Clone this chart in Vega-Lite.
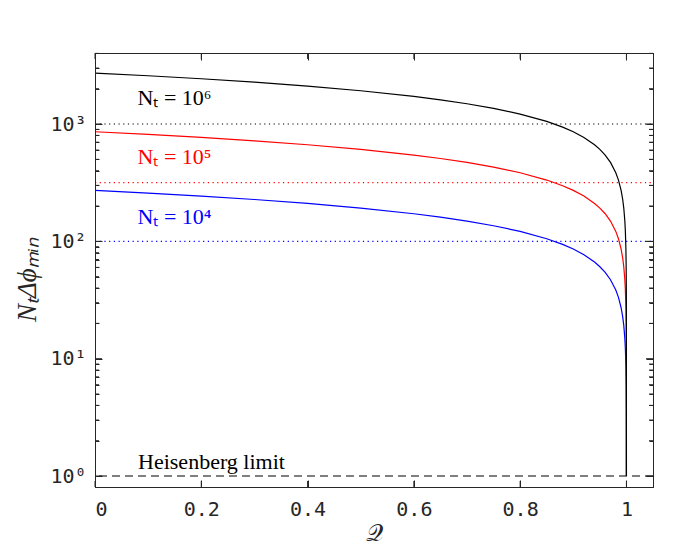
{
  "$schema": "https://vega.github.io/schema/vega-lite/v6.json",
  "width": 558,
  "height": 434,
  "autosize": "none",
  "padding": {"left": 95, "top": 53, "right": 35, "bottom": 63},
  "background": "white",
  "config": {"view": {"stroke": "#262626", "strokeWidth": 1}, "axis": {"zindex": 2, "tickColor": "#262626", "tickWidth": 1, "tickOpacity": 1, "domainColor": "#262626", "domainWidth": 1, "grid": false}},
  "datasets": {
    "curves": [
      {"Q": 0, "v": 271.8, "Nt": "4"}, {"Q": 0.1, "v": 257.9, "Nt": "4"}, {"Q": 0.2, "v": 243.1, "Nt": "4"}, {"Q": 0.3, "v": 227.4, "Nt": "4"}, {"Q": 0.4, "v": 210.6, "Nt": "4"}, {"Q": 0.5, "v": 192.2, "Nt": "4"}, {"Q": 0.6, "v": 171.9, "Nt": "4"}, {"Q": 0.65, "v": 160.8, "Nt": "4"}, {"Q": 0.7, "v": 148.9, "Nt": "4"}, {"Q": 0.75, "v": 135.9, "Nt": "4"}, {"Q": 0.8, "v": 121.6, "Nt": "4"}, {"Q": 0.85, "v": 105.3, "Nt": "4"}, {"Q": 0.88, "v": 94.17, "Nt": "4"}, {"Q": 0.9, "v": 85.96, "Nt": "4"}, {"Q": 0.92, "v": 76.89, "Nt": "4"}, {"Q": 0.94, "v": 66.58, "Nt": "4"}, {"Q": 0.95, "v": 60.78, "Nt": "4"}, {"Q": 0.96, "v": 54.37, "Nt": "4"}, {"Q": 0.97, "v": 47.08, "Nt": "4"}, {"Q": 0.98, "v": 38.44, "Nt": "4"}, {"Q": 0.985, "v": 33.29, "Nt": "4"}, {"Q": 0.99, "v": 27.18, "Nt": "4"}, {"Q": 0.993, "v": 22.74, "Nt": "4"}, {"Q": 0.995, "v": 19.22, "Nt": "4"}, {"Q": 0.997, "v": 14.89, "Nt": "4"}, {"Q": 0.998, "v": 12.16, "Nt": "4"}, {"Q": 0.999, "v": 8.596, "Nt": "4"}, {"Q": 0.9995, "v": 6.078, "Nt": "4"}, {"Q": 0.9998, "v": 3.844, "Nt": "4"}, {"Q": 0.9999, "v": 2.718, "Nt": "4"}, {"Q": 1, "v": 1, "Nt": "4"},
      {"Q": 0, "v": 859.6, "Nt": "5"}, {"Q": 0.1, "v": 815.5, "Nt": "5"}, {"Q": 0.2, "v": 768.8, "Nt": "5"}, {"Q": 0.3, "v": 719.1, "Nt": "5"}, {"Q": 0.4, "v": 666.0, "Nt": "5"}, {"Q": 0.5, "v": 607.8, "Nt": "5"}, {"Q": 0.6, "v": 543.6, "Nt": "5"}, {"Q": 0.65, "v": 508.5, "Nt": "5"}, {"Q": 0.7, "v": 470.9, "Nt": "5"}, {"Q": 0.75, "v": 429.8, "Nt": "5"}, {"Q": 0.8, "v": 384.5, "Nt": "5"}, {"Q": 0.85, "v": 333.0, "Nt": "5"}, {"Q": 0.88, "v": 297.8, "Nt": "5"}, {"Q": 0.9, "v": 271.8, "Nt": "5"}, {"Q": 0.92, "v": 243.2, "Nt": "5"}, {"Q": 0.94, "v": 210.5, "Nt": "5"}, {"Q": 0.95, "v": 192.2, "Nt": "5"}, {"Q": 0.96, "v": 171.9, "Nt": "5"}, {"Q": 0.97, "v": 148.9, "Nt": "5"}, {"Q": 0.98, "v": 121.6, "Nt": "5"}, {"Q": 0.985, "v": 105.3, "Nt": "5"}, {"Q": 0.99, "v": 85.96, "Nt": "5"}, {"Q": 0.993, "v": 71.91, "Nt": "5"}, {"Q": 0.995, "v": 60.78, "Nt": "5"}, {"Q": 0.997, "v": 47.09, "Nt": "5"}, {"Q": 0.998, "v": 38.45, "Nt": "5"}, {"Q": 0.999, "v": 27.18, "Nt": "5"}, {"Q": 0.9995, "v": 19.22, "Nt": "5"}, {"Q": 0.9998, "v": 12.16, "Nt": "5"}, {"Q": 0.9999, "v": 8.596, "Nt": "5"}, {"Q": 1, "v": 1, "Nt": "5"},
      {"Q": 0, "v": 2718, "Nt": "6"}, {"Q": 0.1, "v": 2579, "Nt": "6"}, {"Q": 0.2, "v": 2431, "Nt": "6"}, {"Q": 0.3, "v": 2274, "Nt": "6"}, {"Q": 0.4, "v": 2106, "Nt": "6"}, {"Q": 0.5, "v": 1922, "Nt": "6"}, {"Q": 0.6, "v": 1719, "Nt": "6"}, {"Q": 0.65, "v": 1608, "Nt": "6"}, {"Q": 0.7, "v": 1489, "Nt": "6"}, {"Q": 0.75, "v": 1359, "Nt": "6"}, {"Q": 0.8, "v": 1216, "Nt": "6"}, {"Q": 0.85, "v": 1053, "Nt": "6"}, {"Q": 0.88, "v": 941.7, "Nt": "6"}, {"Q": 0.9, "v": 859.6, "Nt": "6"}, {"Q": 0.92, "v": 768.9, "Nt": "6"}, {"Q": 0.94, "v": 665.8, "Nt": "6"}, {"Q": 0.95, "v": 607.8, "Nt": "6"}, {"Q": 0.96, "v": 543.7, "Nt": "6"}, {"Q": 0.97, "v": 470.8, "Nt": "6"}, {"Q": 0.98, "v": 384.4, "Nt": "6"}, {"Q": 0.985, "v": 332.9, "Nt": "6"}, {"Q": 0.99, "v": 271.8, "Nt": "6"}, {"Q": 0.993, "v": 227.4, "Nt": "6"}, {"Q": 0.995, "v": 192.2, "Nt": "6"}, {"Q": 0.997, "v": 148.9, "Nt": "6"}, {"Q": 0.998, "v": 121.6, "Nt": "6"}, {"Q": 0.999, "v": 85.96, "Nt": "6"}, {"Q": 0.9995, "v": 60.78, "Nt": "6"}, {"Q": 0.9998, "v": 38.44, "Nt": "6"}, {"Q": 0.9999, "v": 27.18, "Nt": "6"}, {"Q": 1, "v": 1, "Nt": "6"}
    ],
    "hlines": [
      {"v": 100, "Nt": "4"}, {"v": 316.23, "Nt": "5"}, {"v": 1000, "Nt": "6"}
    ],
    "heis": [{"v": 1}],
    "yMajor": [{"v": 1}, {"v": 10}, {"v": 100}, {"v": 1000}],
    "yMinor": [{"v": 2}, {"v": 3}, {"v": 4}, {"v": 5}, {"v": 6}, {"v": 7}, {"v": 8}, {"v": 9}, {"v": 20}, {"v": 30}, {"v": 40}, {"v": 50}, {"v": 60}, {"v": 70}, {"v": 80}, {"v": 90}, {"v": 200}, {"v": 300}, {"v": 400}, {"v": 500}, {"v": 600}, {"v": 700}, {"v": 800}, {"v": 900}, {"v": 2000}, {"v": 3000}, {"v": 4000}],
    "xMajor": [{"Q": 0}, {"Q": 0.2}, {"Q": 0.4}, {"Q": 0.6}, {"Q": 0.8}, {"Q": 1}],
    "labels": [
      {"Q": 0.08, "v": 1656, "label": "Nₜ = 10⁶", "Nt": "6"},
      {"Q": 0.08, "v": 524, "label": "Nₜ = 10⁵", "Nt": "5"},
      {"Q": 0.08, "v": 161, "label": "Nₜ = 10⁴", "Nt": "4"},
      {"Q": 0.081, "v": 1.32, "label": "Heisenberg limit", "Nt": "H"}
    ]
  },
  "layer": [
    {
      "data": {"name": "curves"},
      "mark": {"type": "line", "strokeWidth": 1.2},
      "encoding": {
        "x": {"field": "Q", "type": "quantitative",
          "scale": {"domain": [0, 1.05], "nice": false, "zero": false},
          "axis": {"orient": "bottom", "values": [0, 0.2, 0.4, 0.6, 0.8, 1], "zindex": 2,
            "labelExpr": "datum.value == 0 ? '0' : datum.value == 1 ? '1' : format(datum.value, '.1f')",
            "labelFont": "DejaVu Sans Mono", "labelFontSize": 20, "labelColor": "#262626",
            "tickSize": -7, "labelPadding": 19,
            "title": "𝒬", "titleFont": "DejaVu Serif", "titleFontSize": 24, "titleFontWeight": "normal", "titleColor": "#262626", "titlePadding": 2}},
        "y": {"field": "v", "type": "quantitative",
          "scale": {"type": "log", "domain": [0.806, 4030], "nice": false},
          "axis": {"orient": "left", "values": [1, 10, 100, 1000], "zindex": 2,
            "labelExpr": "'10' + ['⁰','¹','²','³'][round(log(datum.value)/LN10)]",
            "labelFont": "DejaVu Sans Mono", "labelFontSize": 20, "labelColor": "#262626",
            "tickSize": -7, "labelPadding": 16,
            "title": "NₜΔϕₘᵢₙ", "titleFont": "Liberation Serif", "titleFontSize": 27, "titleFontWeight": "normal", "titleFontStyle": "italic", "titleColor": "#262626", "titlePadding": 8, "titleY": 226}},
        "color": {"field": "Nt", "type": "nominal",
          "scale": {"domain": ["4", "5", "6", "H"], "range": ["#0000ff", "#ff0000", "#000000", "#000000"]},
          "legend": null}
      }
    },
    {
      "data": {"name": "hlines"},
      "mark": {"type": "rule", "strokeWidth": 1.2, "strokeDash": [1.2, 3.5]},
      "encoding": {
        "x": {"datum": 0, "type": "quantitative",
          "scale": {"domain": [0, 1.05], "nice": false, "zero": false},
          "axis": {"orient": "top", "values": [0, 0.2, 0.4, 0.6, 0.8, 1], "labels": false, "zindex": 2,
            "tickSize": -7, "title": null}},
        "x2": {"datum": 1.05},
        "y": {"field": "v", "type": "quantitative",
          "scale": {"type": "log", "domain": [0.806, 4030], "nice": false},
          "axis": {"orient": "left", "values": [2, 3, 4, 5, 6, 7, 8, 9, 20, 30, 40, 50, 60, 70, 80, 90, 200, 300, 400, 500, 600, 700, 800, 900, 2000, 3000, 4000],
            "labels": false, "tickSize": -4, "title": null, "zindex": 2}},
        "color": {"field": "Nt", "type": "nominal",
          "scale": {"domain": ["4", "5", "6", "H"], "range": ["#0000ff", "#ff0000", "#000000", "#000000"]},
          "legend": null}
      }
    },
    {
      "data": {"name": "heis"},
      "mark": {"type": "rule", "strokeWidth": 1.2, "strokeDash": [8, 5], "color": "#000000"},
      "encoding": {
        "y": {"field": "v", "type": "quantitative",
          "scale": {"type": "log", "domain": [0.806, 4030], "nice": false},
          "axis": {"orient": "right", "values": [1, 10, 100, 1000], "labels": false, "zindex": 2,
            "tickSize": -7, "title": null}}
      }
    },
    {
      "data": {"name": "labels"},
      "mark": {"type": "text", "align": "left", "baseline": "middle", "font": "Liberation Serif", "fontSize": 22},
      "encoding": {
        "x": {"field": "Q", "type": "quantitative",
          "scale": {"domain": [0, 1.05], "nice": false, "zero": false}, "axis": null},
        "y": {"field": "v", "type": "quantitative",
          "scale": {"type": "log", "domain": [0.806, 4030], "nice": false},
          "axis": {"orient": "right", "values": [2, 3, 4, 5, 6, 7, 8, 9, 20, 30, 40, 50, 60, 70, 80, 90, 200, 300, 400, 500, 600, 700, 800, 900, 2000, 3000, 4000],
            "labels": false, "tickSize": -4, "title": null, "zindex": 2}},
        "text": {"field": "label"},
        "color": {"field": "Nt", "type": "nominal",
          "scale": {"domain": ["4", "5", "6", "H"], "range": ["#0000ff", "#ff0000", "#000000", "#000000"]},
          "legend": null}
      }
    },
    {
      "data": {"name": "yMajor"},
      "mark": {"type": "rule", "color": "#262626", "strokeWidth": 1},
      "encoding": {
        "x": {"datum": 0, "type": "quantitative", "scale": {"domain": [0, 1.05], "nice": false, "zero": false}, "axis": null},
        "x2": {"datum": 0.0132},
        "y": {"field": "v", "type": "quantitative", "scale": {"type": "log", "domain": [0.806, 4030], "nice": false}, "axis": null}
      }
    },
    {
      "data": {"name": "yMajor"},
      "mark": {"type": "rule", "color": "#262626", "strokeWidth": 1},
      "encoding": {
        "x": {"datum": 1.0368, "type": "quantitative", "scale": {"domain": [0, 1.05], "nice": false, "zero": false}, "axis": null},
        "x2": {"datum": 1.05},
        "y": {"field": "v", "type": "quantitative", "scale": {"type": "log", "domain": [0.806, 4030], "nice": false}, "axis": null}
      }
    },
    {
      "data": {"name": "yMinor"},
      "mark": {"type": "rule", "color": "#262626", "strokeWidth": 1},
      "encoding": {
        "x": {"datum": 0, "type": "quantitative", "scale": {"domain": [0, 1.05], "nice": false, "zero": false}, "axis": null},
        "x2": {"datum": 0.0075},
        "y": {"field": "v", "type": "quantitative", "scale": {"type": "log", "domain": [0.806, 4030], "nice": false}, "axis": null}
      }
    },
    {
      "data": {"name": "yMinor"},
      "mark": {"type": "rule", "color": "#262626", "strokeWidth": 1},
      "encoding": {
        "x": {"datum": 1.0425, "type": "quantitative", "scale": {"domain": [0, 1.05], "nice": false, "zero": false}, "axis": null},
        "x2": {"datum": 1.05},
        "y": {"field": "v", "type": "quantitative", "scale": {"type": "log", "domain": [0.806, 4030], "nice": false}, "axis": null}
      }
    },
    {
      "data": {"name": "xMajor"},
      "mark": {"type": "rule", "color": "#262626", "strokeWidth": 1},
      "encoding": {
        "x": {"field": "Q", "type": "quantitative", "scale": {"domain": [0, 1.05], "nice": false, "zero": false}, "axis": null},
        "y": {"datum": 0.806, "type": "quantitative", "scale": {"type": "log", "domain": [0.806, 4030], "nice": false}, "axis": null},
        "y2": {"datum": 0.907}
      }
    },
    {
      "data": {"name": "xMajor"},
      "mark": {"type": "rule", "color": "#262626", "strokeWidth": 1},
      "encoding": {
        "x": {"field": "Q", "type": "quantitative", "scale": {"domain": [0, 1.05], "nice": false, "zero": false}, "axis": null},
        "y": {"datum": 3582, "type": "quantitative", "scale": {"type": "log", "domain": [0.806, 4030], "nice": false}, "axis": null},
        "y2": {"datum": 4030}
      }
    }
  ],
  "resolve": {"axis": {"x": "independent", "y": "independent"}}
}
